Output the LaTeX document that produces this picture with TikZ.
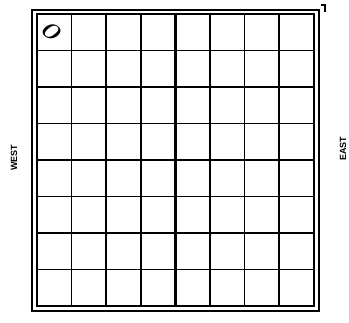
\documentclass[tikz,border=0pt]{standalone}
\usepackage{fontspec}
\setsansfont{Liberation Sans}
\begin{document}
\begin{tikzpicture}[x=1pt, y=-1pt, line width=1.7pt]

  \useasboundingbox (0,0) rectangle (349,323);

  %% ---- FRAME ----
  \draw (32,10) rectangle (319,311);
  \draw (37,14) rectangle (314,306);

  %% corner tick
  \draw[line width=1.2pt] (321,5) -- (325,5) -- (325,12);

  %% ---- GRID ----
  \foreach \i in {1,2,3,5,6,7} {
    \draw (37+\i*34.6,14) -- (37+\i*34.6,306);
    \draw (37,14+\i*36.5) -- (314,14+\i*36.5);
  }

  %% axes
  \draw[line width=2.6pt] (175.4,14) -- (175.4,306);
  \draw[line width=2.6pt] (37,160) -- (314,160);

  %% ---- LABELS ----
  \node[font=\sffamily\bfseries\small, rotate=90] (west) at (14,158) {WEST};
  \node[font=\sffamily\bfseries\small, rotate=90] (east) at (343,149) {EAST};
  \node[font=\bfseries\itshape, scale=2.2, rotate=-35] (mark) at (51,31) {O};

\end{tikzpicture}
\end{document}
